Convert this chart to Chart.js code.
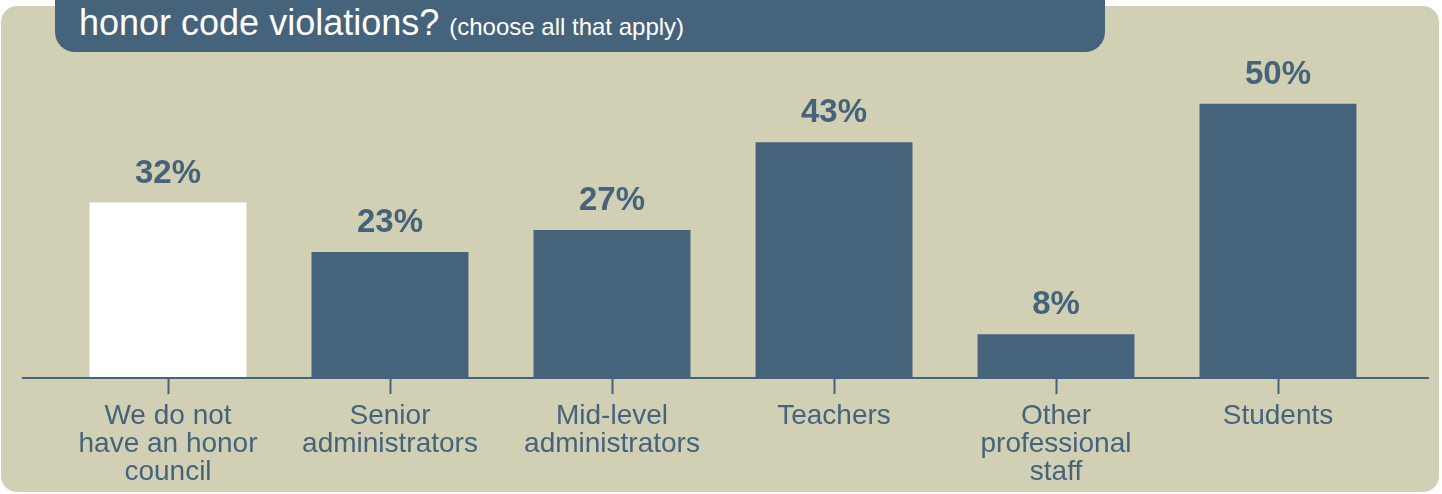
<!DOCTYPE html>
<html>
<head>
<meta charset="utf-8">
<script src="https://cdn.jsdelivr.net/npm/chart.js@4.4.1/dist/chart.umd.min.js"></script>
<style>
  html, body { margin: 0; padding: 0; background: #fff; }
  #wrap { position: relative; width: 1442px; height: 494px; overflow: hidden; font-family: "Liberation Sans", Arial, sans-serif; }
  #panel { position: absolute; left: 1px; top: 6px; width: 1438px; height: 486px; background: #d1d0b4; border-radius: 16px; }
  #titlebox { position: absolute; left: 55px; top: -40px; width: 1050px; height: 92px; background: #46637c; border-radius: 20px; }
  #title { position: absolute; left: 79px; top: 5px; color: #fff; font-size: 36px; line-height: 36px; white-space: nowrap; }
  #title small { font-size: 24px; }
  #chart { position: absolute; left: 0; top: 0; }
</style>
</head>
<body>
<div id="wrap">
  <div id="panel"></div>
  <div id="titlebox"></div>
  <div id="title">honor code violations? <small>(choose all that apply)</small></div>
  <canvas id="chart" width="1442" height="494"></canvas>
</div>
<script>
// Categories and values
const categories = [
  ['We do not', 'have an honor', 'council'],
  ['Senior', 'administrators'],
  ['Mid-level', 'administrators'],
  'Teachers',
  ['Other', 'professional', 'staff'],
  'Students'
];
const percents = [32, 23, 27, 43, 8, 50];
const barColors = ['#ffffff', '#46637c', '#46637c', '#46637c', '#46637c', '#46637c'];

const blue = '#46637c';

// long base line under the bars, wider than the plot area
const baseLine = {
  id: 'baseLine',
  afterDraw(chart) {
    const ctx = chart.ctx;
    const y = chart.chartArea.bottom;
    ctx.save();
    ctx.strokeStyle = blue;
    ctx.lineWidth = 2;
    ctx.beginPath();
    ctx.moveTo(22, y);
    ctx.lineTo(1429, y);
    ctx.stroke();
    ctx.restore();
  }
};

// percent labels over each bar
const valueLabels = {
  id: 'valueLabels',
  afterDatasetsDraw(chart) {
    const ctx = chart.ctx;
    const meta = chart.getDatasetMeta(0);
    ctx.save();
    ctx.fillStyle = blue;
    ctx.font = 'bold 33px "Liberation Sans", Arial, sans-serif';
    ctx.textAlign = 'center';
    ctx.textBaseline = 'alphabetic';
    meta.data.forEach((bar, i) => {
      ctx.fillText(percents[i] + '%', bar.x, bar.y - 20);
    });
    ctx.restore();
  }
};

new Chart(document.getElementById('chart'), {
  type: 'bar',
  data: {
    labels: categories,
    datasets: [{
      data: percents,
      backgroundColor: barColors,
      borderWidth: 0,
      barPercentage: 0.707,
      categoryPercentage: 1
    }]
  },
  options: {
    responsive: false,
    animation: false,
    layout: { padding: { left: 57, right: 53, top: 49, bottom: 0 } },
    plugins: {
      legend: { display: false },
      tooltip: { enabled: false }
    },
    scales: {
      x: {
        grid: {
          offset: false,
          drawOnChartArea: false,
          drawTicks: true,
          tickLength: 16,
          tickWidth: 2,
          tickColor: blue
        },
        border: { display: false },
        ticks: {
          color: blue,
          padding: 8,
          maxRotation: 0,
          autoSkip: false,
          font: { family: '"Liberation Sans", Arial, sans-serif', size: 28, lineHeight: 1 }
        },
        afterFit(scale) { scale.height = 116; }
      },
      y: {
        display: false,
        min: 0,
        max: 60
      }
    }
  },
  plugins: [baseLine, valueLabels]
});
</script>
</body>
</html>
